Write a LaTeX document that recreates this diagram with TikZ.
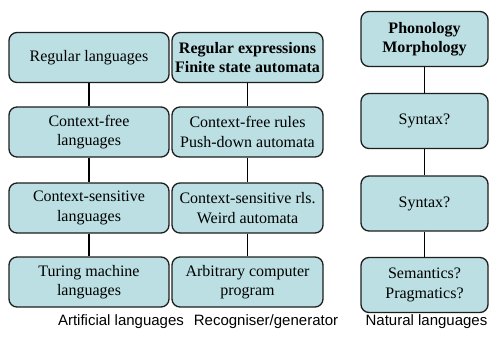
\documentclass[tikz,border=0pt]{standalone}
\usepackage{fontspec}
\setmainfont{Liberation Serif}
\newfontfamily\captionfont{Liberation Sans}
\definecolor{boxfill}{RGB}{187,223,227}
\definecolor{edge}{RGB}{30,30,30}
\begin{document}
\begin{tikzpicture}[x=1pt,y=1pt,
  box/.style={draw=edge, fill=boxfill, line width=1.3pt, rounded corners=8pt,
    inner sep=0pt, align=center, font=\fontsize{16}{19.3}\selectfont},
  colA/.style={box, minimum width=160pt, minimum height=50pt},
  colB/.style={box, minimum width=151pt, minimum height=50pt},
  colC/.style={box, minimum width=127pt, minimum height=55pt},
  link/.style={draw=black, line width=1.4pt},
  caption/.style={font=\captionfont\fontsize{15}{18}\selectfont, inner sep=0pt}]
\useasboundingbox (0,0) rectangle (490,-343);

% formal language hierarchy
\node[colA] (a1) at (89,-57.5) {Regular languages};
\node[colA] (a2) at (89,-132) {Context-free\\languages};
\node[colA] (a3) at (89,-208) {Context-sensitive\\languages};
\node[colA] (a4) at (89,-282) {Turing machine\\languages};

% matching recognisers / generators
\node[colB] (b1) at (247.5,-57.5) {\textbf{Regular expressions}\\\textbf{Finite state automata}};
\node[colB] (b2) at (247.5,-132) {Context-free rules\\Push-down automata};
\node[colB] (b3) at (247.5,-208) {Context-sensitive rls.\\Weird automata};
\node[colB] (b4) at (247.5,-282) {Arbitrary computer\\program};

% levels of natural language
\node[colC] (c1) at (424.5,-39) {\textbf{Phonology}\\\textbf{Morphology}};
\node[colC] (c2) at (424.5,-121) {Syntax?};
\node[colC] (c3) at (424.5,-203.5) {Syntax?};
\node[colC] (c4) at (424.5,-285) {Semantics?\\Pragmatics?};

\foreach \col in {a,b,c}{
  \draw[link] (\col1) -- (\col2);
  \draw[link] (\col2) -- (\col3);
  \draw[link] (\col3) -- (\col4);
}

% column captions
\node[caption] (capA) at (121,-322) {Artificial languages};
\node[caption] (capB) at (266,-322) {Recogniser/generator};
\node[caption] (capC) at (426.5,-322) {Natural languages};
\end{tikzpicture}
\end{document}
